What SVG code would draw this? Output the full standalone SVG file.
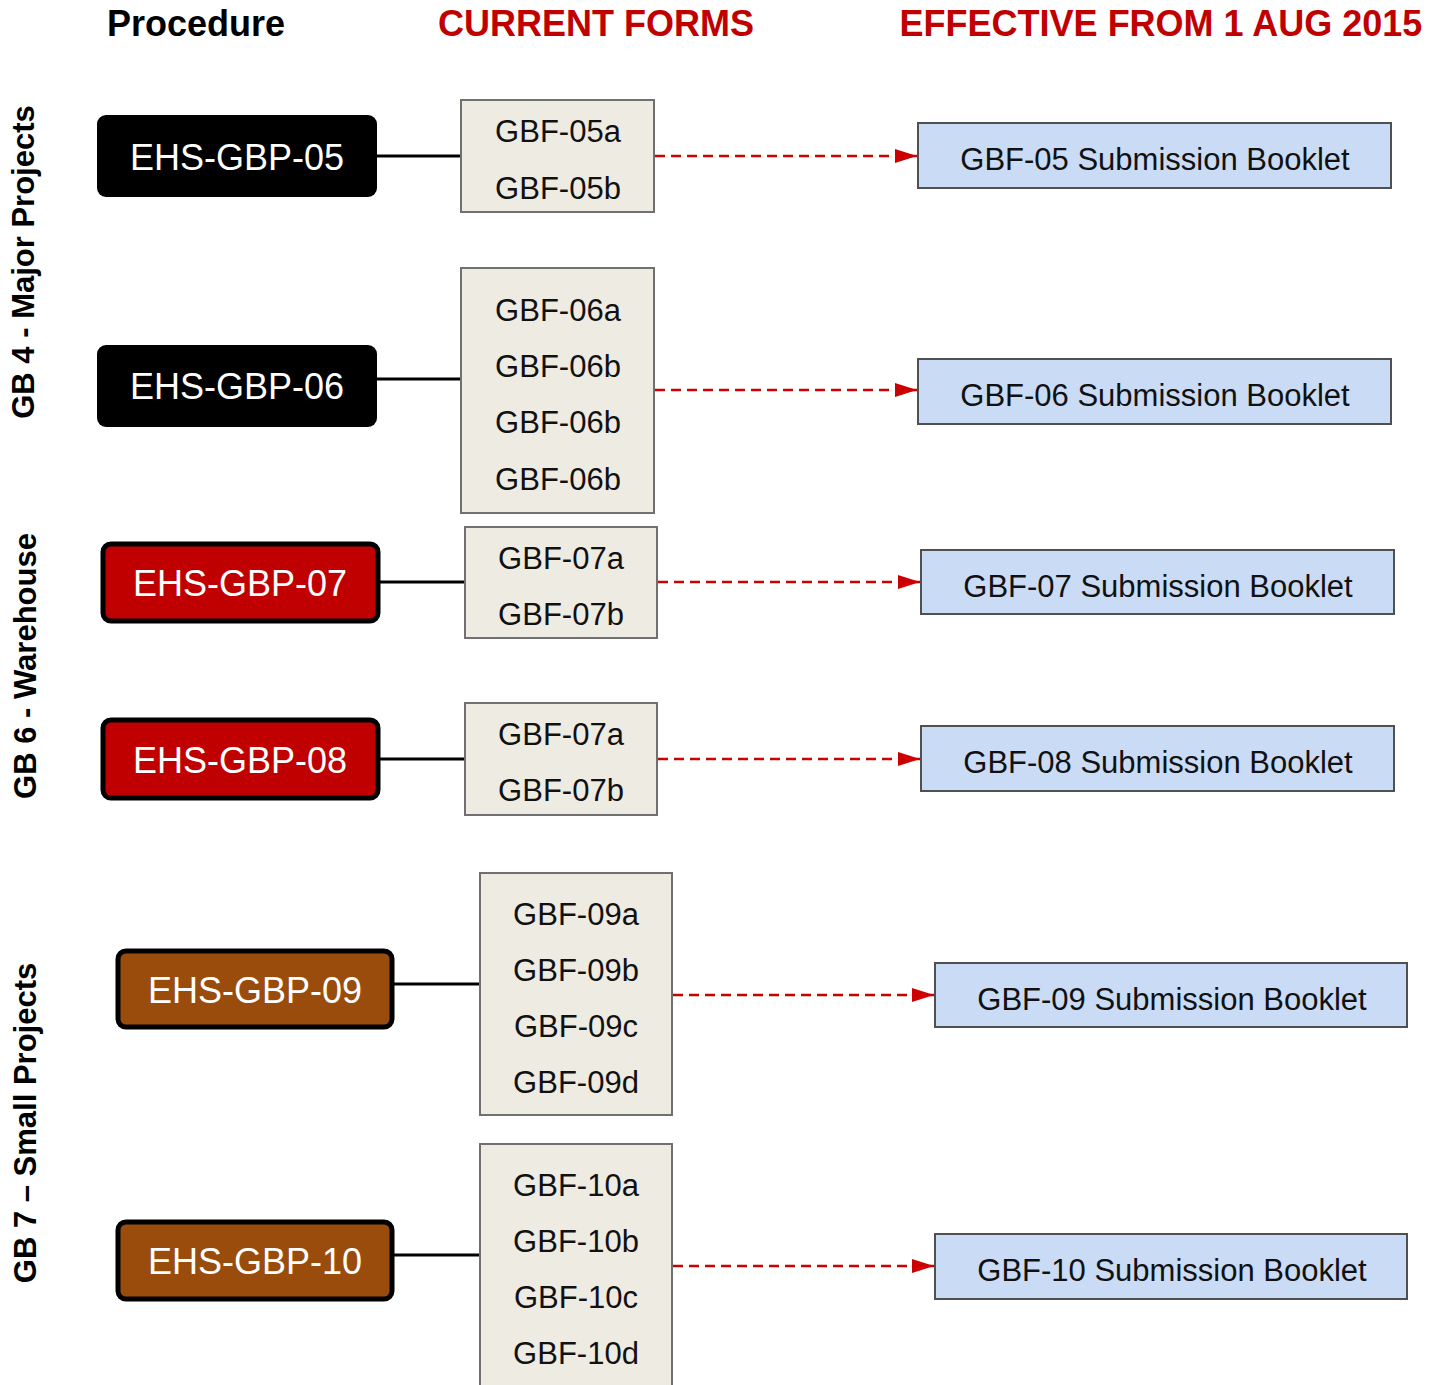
<svg xmlns="http://www.w3.org/2000/svg" width="1445" height="1385" viewBox="0 0 1445 1385">
<defs>
<style>
.hdr{font-family:"Liberation Sans",Arial,sans-serif;font-weight:bold;font-size:36px;text-anchor:middle}
.side{font-family:"Liberation Sans",Arial,sans-serif;font-weight:bold;font-size:31px;text-anchor:middle;fill:#000}
.proc{stroke:#000;stroke-width:5}
.ptxt{font-family:"Liberation Sans",Arial,sans-serif;font-size:36px;fill:#fff;text-anchor:middle;dominant-baseline:central}
.form{fill:#eeebe3;stroke:#707070;stroke-width:2}
.ftxt{font-family:"Liberation Sans",Arial,sans-serif;font-size:31px;fill:#111;text-anchor:middle;dominant-baseline:central}
.book{fill:#c9dbf5;stroke:#505050;stroke-width:2}
.btxt{font-family:"Liberation Sans",Arial,sans-serif;font-size:31px;fill:#111;text-anchor:middle;dominant-baseline:central}
.solid{stroke:#000;stroke-width:3;fill:none}
.dash{stroke:#cc0000;stroke-width:2.5;stroke-dasharray:10 6;fill:none}
</style>
<marker id="arr" viewBox="0 0 10 10" refX="10" refY="5" markerWidth="22" markerHeight="14" markerUnits="userSpaceOnUse" orient="auto" preserveAspectRatio="none">
<path d="M0,0 L10,5 L0,10 z" fill="#cc0000"/>
</marker>
</defs>
<rect width="1445" height="1385" fill="#fff"/>
<text class="hdr" x="196" y="36" fill="#000">Procedure</text>
<text class="hdr" x="596" y="36" fill="#c00000">CURRENT FORMS</text>
<text class="hdr" x="1161" y="36" fill="#c00000">EFFECTIVE FROM 1 AUG 2015</text>
<text class="side" transform="translate(34,262) rotate(-90)">GB 4 - Major Projects</text>
<text class="side" transform="translate(36,666) rotate(-90)">GB 6 - Warehouse</text>
<text class="side" transform="translate(36,1123) rotate(-90)">GB 7 – Small Projects</text>
<g id="connectors">
<path class="solid" d="M377,156 H461"/>
<path class="solid" d="M377,379 H461"/>
<path class="solid" d="M380,582 H465"/>
<path class="solid" d="M380,759 H465"/>
<path class="solid" d="M394,984 H480"/>
<path class="solid" d="M394,1255 H480"/>
<path class="dash" d="M655,156 H917" marker-end="url(#arr)"/>
<path class="dash" d="M655,390 H917" marker-end="url(#arr)"/>
<path class="dash" d="M658,582 H920" marker-end="url(#arr)"/>
<path class="dash" d="M658,759 H920" marker-end="url(#arr)"/>
<path class="dash" d="M673,995 H934" marker-end="url(#arr)"/>
<path class="dash" d="M673,1266 H934" marker-end="url(#arr)"/>
</g>
<g id="p05"><rect x="97" y="115" width="280" height="82" rx="9" fill="#000"/><text class="ptxt" x="237" y="157">EHS-GBP-05</text></g>
<g id="p06"><rect x="97" y="345" width="280" height="82" rx="9" fill="#000"/><text class="ptxt" x="237" y="386">EHS-GBP-06</text></g>
<g id="p07"><rect class="proc" x="103" y="544" width="275" height="77" rx="8" fill="#c00000"/><text class="ptxt" x="240" y="583">EHS-GBP-07</text></g>
<g id="p08"><rect class="proc" x="103" y="720" width="275" height="78" rx="8" fill="#c00000"/><text class="ptxt" x="240" y="760">EHS-GBP-08</text></g>
<g id="p09"><rect class="proc" x="118" y="951" width="274" height="76" rx="8" fill="#994c0c"/><text class="ptxt" x="255" y="990">EHS-GBP-09</text></g>
<g id="p10"><rect class="proc" x="118" y="1222" width="274" height="77" rx="8" fill="#994c0c"/><text class="ptxt" x="255" y="1261">EHS-GBP-10</text></g>
<g id="f05"><rect class="form" x="461" y="100" width="193" height="112"/><text class="ftxt" x="558" y="131">GBF-05a</text><text class="ftxt" x="558" y="188">GBF-05b</text></g>
<g id="f06"><rect class="form" x="461" y="268" width="193" height="245"/><text class="ftxt" x="558" y="310">GBF-06a</text><text class="ftxt" x="558" y="366">GBF-06b</text><text class="ftxt" x="558" y="422">GBF-06b</text><text class="ftxt" x="558" y="479">GBF-06b</text></g>
<g id="f07"><rect class="form" x="465" y="527" width="192" height="111"/><text class="ftxt" x="561" y="558">GBF-07a</text><text class="ftxt" x="561" y="614">GBF-07b</text></g>
<g id="f08"><rect class="form" x="465" y="703" width="192" height="112"/><text class="ftxt" x="561" y="734">GBF-07a</text><text class="ftxt" x="561" y="790">GBF-07b</text></g>
<g id="f09"><rect class="form" x="480" y="873" width="192" height="242"/><text class="ftxt" x="576" y="914">GBF-09a</text><text class="ftxt" x="576" y="970">GBF-09b</text><text class="ftxt" x="576" y="1026">GBF-09c</text><text class="ftxt" x="576" y="1082">GBF-09d</text></g>
<g id="f10"><rect class="form" x="480" y="1144" width="192" height="250"/><text class="ftxt" x="576" y="1185">GBF-10a</text><text class="ftxt" x="576" y="1241">GBF-10b</text><text class="ftxt" x="576" y="1297">GBF-10c</text><text class="ftxt" x="576" y="1353">GBF-10d</text></g>
<g id="b05"><rect class="book" x="918" y="123" width="473" height="65"/><text class="btxt" x="1155" y="159">GBF-05 Submission Booklet</text></g>
<g id="b06"><rect class="book" x="918" y="359" width="473" height="65"/><text class="btxt" x="1155" y="395">GBF-06 Submission Booklet</text></g>
<g id="b07"><rect class="book" x="921" y="550" width="473" height="64"/><text class="btxt" x="1158" y="586">GBF-07 Submission Booklet</text></g>
<g id="b08"><rect class="book" x="921" y="726" width="473" height="65"/><text class="btxt" x="1158" y="762">GBF-08 Submission Booklet</text></g>
<g id="b09"><rect class="book" x="935" y="963" width="472" height="64"/><text class="btxt" x="1172" y="999">GBF-09 Submission Booklet</text></g>
<g id="b10"><rect class="book" x="935" y="1234" width="472" height="65"/><text class="btxt" x="1172" y="1270">GBF-10 Submission Booklet</text></g>
</svg>
